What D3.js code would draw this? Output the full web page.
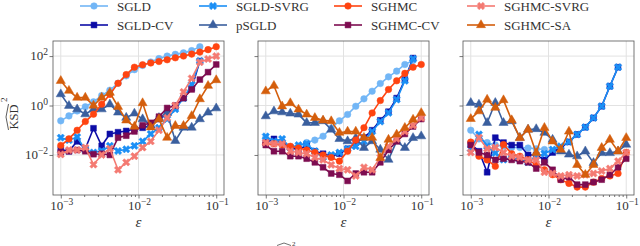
<!DOCTYPE html>
<html>
<head>
<meta charset="utf-8">
<script src="https://cdn.jsdelivr.net/npm/d3@7"></script>
<style>
  body { margin: 0; background: #fff; }
  svg { display: block; }
  svg text { font-family: "Liberation Serif", "DejaVu Serif", serif; }
</style>
</head>
<body>
<script>
// step sizes: 20 log-spaced values from 1e-3 to 1e-1
var epsilons = [1e-3, 1.274e-3, 1.624e-3, 2.069e-3, 2.637e-3, 3.360e-3, 4.281e-3, 5.456e-3, 6.952e-3, 8.859e-3,
                1.129e-2, 1.438e-2, 1.833e-2, 2.336e-2, 2.976e-2, 3.793e-2, 4.833e-2, 6.158e-2, 7.848e-2, 1e-1];

// KSD^2, written as powers of ten (one row per panel)
var SGLD = [
  [-0.62,-0.42,-0.22,-0.05,0.15,0.4,0.62,0.9,1.2,1.45,1.62,1.76,1.9,2.0,2.07,2.13,2.22,2.38],
  [-1.31,-1.45,-1.55,-1.7,-1.65,-1.5,-1.4,-1.24,-0.92,-0.62,-0.36,-0.03,0.27,0.58,0.89,1.16,1.39,1.66,1.82],
  [-1.0,-1.35,-1.5,-1.6,-1.65,-1.7,-1.7,-1.72,-1.75,-1.78]
];
var SGLD_CV = [
  [-1.78,-1.85,-1.45,-1.75,-0.92,-1.63,-1.15,-1.08,-1.03,-0.95,-0.9,-0.8,-0.55,-0.35,-0.05,0.3,0.7,1.8],
  [-1.5,-1.35,-1.5,-1.7,-1.8,-1.6,-1.85,-1.95,-2.05,-1.95,-1.75,-1.5,-1.3,-1.0,-0.6,-0.25,0.3,1.05,1.92],
  [-1.55,-1.85,-2.7,-1.3,-1.5,-1.6,-1.6,-2.0,-2.0,-2.2,-1.9,-1.7,-1.47,-1.17,-0.88,-0.5,-0.03,0.78,1.55]
];
var SGLD_SVRG = [
  [-1.3,-1.4,-1.27,-1.8,-1.9,-1.84,-1.63,-1.84,-1.77,-1.63,-1.45,-1.15,-0.9,-0.55,-0.15,0.3,0.85,1.8],
  [-1.25,-1.45,-1.35,-1.7,-1.6,-1.55,-1.85,-2.1,-2.0,-1.9,-1.75,-1.65,-1.45,-1.05,-0.65,-0.3,0.24,1.0,1.89],
  [-1.75,-1.17,-1.65,-1.92,-2.19,-2.12,-2.19,-2.3,-2.05,-1.95,-1.78,-1.65,-1.47,-1.17,-0.88,-0.5,-0.03,0.78,1.55]
];
var pSGLD = [
  [0.46,-0.01,-0.15,-0.35,-0.15,-0.15,0.05,-0.28,-0.49,-0.32,-0.55,-0.8,-0.5,-0.3,-1.43,-0.89,-0.89,-0.55,-0.28,-0.11],
  [-0.43,-0.23,-0.27,-0.32,-0.36,-0.7,-0.7,-0.63,-0.97,-1.35,-1.44,-1.31,-1.71,-1.44,-1.78,-2.19,-1.44,-1.71,-1.31,-1.24],
  [0.11,0.04,-0.7,0.11,-0.7,-0.63,-1.3,-0.97,-0.95,-1.1,-1.38,-1.85,-1.98,-2.05,-1.85,-2.32,-1.92,-1.92,-1.85,-1.58]
];
var SGHMC = [
  [-1.62,-1.35,-1.0,-0.65,-0.35,0.05,0.45,0.9,1.25,1.55,1.65,1.72,1.78,1.85,1.93,2.0,2.08,2.16,2.26,2.38],
  [-1.55,-1.55,-1.6,-1.65,-1.72,-1.8,-1.9,-2.0,-2.1,-2.25,-1.85,-1.4,-0.9,-0.3,0.2,0.65,1.0,1.3,1.55,1.66],
  [-1.48,-2.05,-2.2,-2.46,-1.58,-1.95,-2.05,-2.2,-2.4,-2.6,-2.8,-3.0,-3.15,-3.3,-3.3,-3.1,-2.95,-2.85,-2.75,-1.9]
];
var SGHMC_CV = [
  [-1.9,-1.85,-1.8,-1.85,-1.97,-1.95,-2.0,-1.3,-1.22,-1.05,-0.8,-0.7,-0.45,-0.1,0.0,0.3,0.65,1.05,1.35,1.66],
  [-1.6,-1.85,-1.85,-2.05,-2.05,-2.15,-2.3,-2.5,-2.75,-2.8,-3.05,-2.75,-2.7,-2.7,-2.3,-1.8,-1.45,-1.15,-0.85,-0.55],
  [-1.6,-1.9,-2.0,-2.2,-2.15,-2.2,-2.25,-2.3,-2.55,-2.3,-2.6,-3.0,-2.9,-3.2,-3.2,-3.1,-3.0,-2.8,-2.5,-2.15]
];
var SGHMC_SVRG = [
  [-1.98,-1.8,-1.8,-1.7,-2.39,-2.0,-1.75,-2.6,-2.3,-2.05,-1.7,-1.45,-1.0,-0.5,0.0,0.55,1.1,1.75,1.88,2.0],
  [-1.5,-1.55,-1.55,-1.85,-1.9,-1.95,-2.1,-2.2,-2.4,-2.55,-2.6,-2.85,-2.5,-2.6,-2.1,-1.65,-1.35,-1.05,-0.8,-0.5],
  [-1.9,-1.3,-1.75,-1.7,-1.9,-2.05,-2.1,-2.2,-2.2,-2.7,-2.75,-2.85,-2.8,-2.85,-2.8,-2.75,-2.65,-2.55,-2.25,-1.9]
];
var SGHMC_SA = [
  [1.0,0.6,0.32,0.32,0.0,0.32,0.52,-0.05,-0.6,-0.85,0.1,-0.88,-0.55,-1.3,-0.82,-0.82,-0.42,0.26,0.8,1.03],
  [0.58,0.8,-0.03,0.1,-0.16,-0.36,-0.5,-0.6,-0.63,-1.1,-1.05,-1.05,-1.3,-1.3,-2.12,-1.38,-1.17,-0.9,-0.57,-0.3],
  [-0.54,-0.23,0.24,-0.09,0.22,-0.59,-1.31,-0.97,-1.92,-0.9,-1.45,-1.78,-1.05,-2.4,-2.8,-2.4,-1.71,-1.38,-1.85,-1.31]
];

var xTicks = [1e-3, 1e-2, 1e-1];
var xTickExp = ["\u22123", "\u22122", "\u22121"];
var yTicks = [1e-2, 1, 1e2];
var yTickExp = ["\u22122", "0", "2"];

// plotting order = legend order (column-major, 4 columns)
var series = [
  {name: "SGLD",       data: SGLD,       color: "#72b6f6", shape: "circle"},
  {name: "SGLD-CV",    data: SGLD_CV,    color: "#0c0ca6", shape: "square"},
  {name: "SGLD-SVRG",  data: SGLD_SVRG,  color: "#1b8ff5", shape: "x"},
  {name: "pSGLD",      data: pSGLD,      color: "#3a5f9e", shape: "triangle"},
  {name: "SGHMC",      data: SGHMC,      color: "#ff4411", shape: "circle"},
  {name: "SGHMC-CV",   data: SGHMC_CV,   color: "#7d0c50", shape: "square"},
  {name: "SGHMC-SVRG", data: SGHMC_SVRG, color: "#f47a72", shape: "x"},
  {name: "SGHMC-SA",   data: SGHMC_SA,   color: "#d45e0c", shape: "triangle"}
];

var W = 640, H = 246;
var panelLeft = [53, 258, 463], panelW = 171;
var plotTop = 41, plotBottom = 195;

var svg = d3.select("body").append("svg")
  .attr("width", W)
  .attr("height", H);

var y = d3.scaleLog()
  .domain([Math.pow(10, -3.62), Math.pow(10, 2.61)])
  .range([plotBottom, plotTop]);

function symbolPath(shape) {
  if (shape === "circle") return d3.symbol(d3.symbolCircle, 34)();
  if (shape === "square") return d3.symbol(d3.symbolSquare, 34)();
  if (shape === "triangle") return d3.symbol(d3.symbolTriangle, 36)();
  return d3.symbol(d3.symbolCross, 34)();
}
function symbolRot(shape) { return shape === "x" ? " rotate(45)" : ""; }

panelLeft.forEach(function(x0, p) {
  var x = d3.scaleLog()
    .domain([Math.pow(10, -3.1), Math.pow(10, -0.9)])
    .range([x0, x0 + panelW]);

  var g = svg.append("g");

  // grid
  g.selectAll(".vg").data(xTicks).enter().append("line")
    .attr("x1", function(d) { return x(d); }).attr("x2", function(d) { return x(d); })
    .attr("y1", plotTop).attr("y2", plotBottom)
    .attr("stroke", "#e2e2e2").attr("stroke-width", 1);
  g.selectAll(".hg").data(yTicks).enter().append("line")
    .attr("x1", x0).attr("x2", x0 + panelW)
    .attr("y1", function(d) { return y(d); }).attr("y2", function(d) { return y(d); })
    .attr("stroke", "#e2e2e2").attr("stroke-width", 1);

  // axes (tick marks only, labels added as text with superscripts)
  g.append("g").attr("transform", "translate(0," + plotBottom + ")")
    .call(d3.axisBottom(x).tickValues(xTicks).tickSize(3.5).tickFormat(""));
  var xMinor = [];
  [1e-3, 1e-2].forEach(function(dec) { for (var k = 2; k <= 9; k++) xMinor.push(dec * k); });
  g.append("g").attr("transform", "translate(0," + plotBottom + ")")
    .call(d3.axisBottom(x).tickValues(xMinor).tickSize(2).tickFormat(""));
  g.append("g").attr("transform", "translate(" + x0 + ",0)")
    .call(d3.axisLeft(y).tickValues(yTicks).tickSize(3.5).tickFormat(""));
  g.selectAll(".domain").remove();
  g.selectAll(".tick line").attr("stroke", "#555").attr("stroke-width", 0.8);

  xTicks.forEach(function(t, i) {
    var txt = g.append("text")
      .attr("x", x(t) + 1).attr("y", plotBottom + 15)
      .attr("text-anchor", "middle")
      .attr("font-size", 13).attr("fill", "#333");
    txt.append("tspan").text("10");
    txt.append("tspan").attr("dy", -5).attr("font-size", 9.5).text(xTickExp[i]);
  });
  if (p === 0) {
    yTicks.forEach(function(t, i) {
      var txt = g.append("text")
        .attr("x", x0 - 5).attr("y", y(t) + 4)
        .attr("text-anchor", "end")
        .attr("font-size", 13).attr("fill", "#333");
      txt.append("tspan").text("10");
      txt.append("tspan").attr("dy", -5).attr("font-size", 9.5).text(yTickExp[i]);
    });
  }

  // x label
  g.append("text")
    .attr("x", x0 + panelW / 2).attr("y", 227)
    .attr("text-anchor", "middle")
    .attr("font-size", 15).attr("font-style", "italic").attr("fill", "#333")
    .text("\u03b5");

  // series
  var clipId = "clip" + p;
  svg.append("clipPath").attr("id", clipId).append("rect")
    .attr("x", x0 - 4).attr("y", plotTop - 4).attr("width", panelW + 8).attr("height", plotBottom - plotTop + 8);
  var plot = g.append("g").attr("clip-path", "url(#" + clipId + ")");

  var line = d3.line()
    .x(function(d) { return x(d[0]); })
    .y(function(d) { return y(d[1]); });

  series.forEach(function(s) {
    var pts = s.data[p].map(function(v, i) { return [epsilons[i], Math.pow(10, v)]; });
    plot.append("path").datum(pts)
      .attr("d", line)
      .attr("fill", "none").attr("stroke", s.color).attr("stroke-width", 1.6)
      .attr("stroke-linejoin", "round");
    plot.selectAll(null).data(pts).enter().append("path")
      .attr("d", symbolPath(s.shape))
      .attr("transform", function(d) { return "translate(" + x(d[0]) + "," + y(d[1]) + ")" + symbolRot(s.shape); })
      .attr("fill", s.color).attr("stroke", s.color).attr("stroke-width", 0.5);
  });

  // frame
  g.append("rect")
    .attr("x", x0).attr("y", plotTop).attr("width", panelW).attr("height", plotBottom - plotTop)
    .attr("fill", "none").attr("stroke", "#555").attr("stroke-width", 0.8);
});

// y label: KSD with wide hat, squared
var yl = svg.append("g").attr("transform", "translate(18,117) rotate(-90)");
yl.append("text").attr("x", 0).attr("y", 0).attr("text-anchor", "middle")
  .attr("font-size", 12.5).attr("fill", "#333").text("KSD");
yl.append("path").attr("d", "M-13,-9.5 L0,-12 L13,-9.5")
  .attr("fill", "none").attr("stroke", "#333").attr("stroke-width", 0.8);
yl.append("text").attr("x", 15).attr("y", -11).attr("font-size", 9).attr("fill", "#333").text("2");

// legend
var legCols = [80, 199, 334, 467], legRows = [6, 25];
series.forEach(function(s, i) {
  var lx = legCols[Math.floor(i / 2)], ly = legRows[i % 2];
  var lg = svg.append("g");
  lg.append("line").attr("x1", lx).attr("x2", lx + 28).attr("y1", ly).attr("y2", ly)
    .attr("stroke", s.color).attr("stroke-width", 1.6);
  lg.append("path").attr("d", symbolPath(s.shape))
    .attr("transform", "translate(" + (lx + 14) + "," + ly + ")" + symbolRot(s.shape))
    .attr("fill", s.color).attr("stroke", s.color).attr("stroke-width", 0.5);
  lg.append("text").attr("x", lx + 37).attr("y", ly + 4.5)
    .attr("font-size", 13).attr("fill", "#333").text(s.name);
});

// start of the caption below, cut off by the image edge
svg.append("path").attr("d", "M277,245.5 L284,243 L291,245.5")
  .attr("fill", "none").attr("stroke", "#333").attr("stroke-width", 0.7);
svg.append("text").attr("x", 292).attr("y", 245.5).attr("font-size", 7).attr("fill", "#333").text("2");
</script>
</body>
</html>
